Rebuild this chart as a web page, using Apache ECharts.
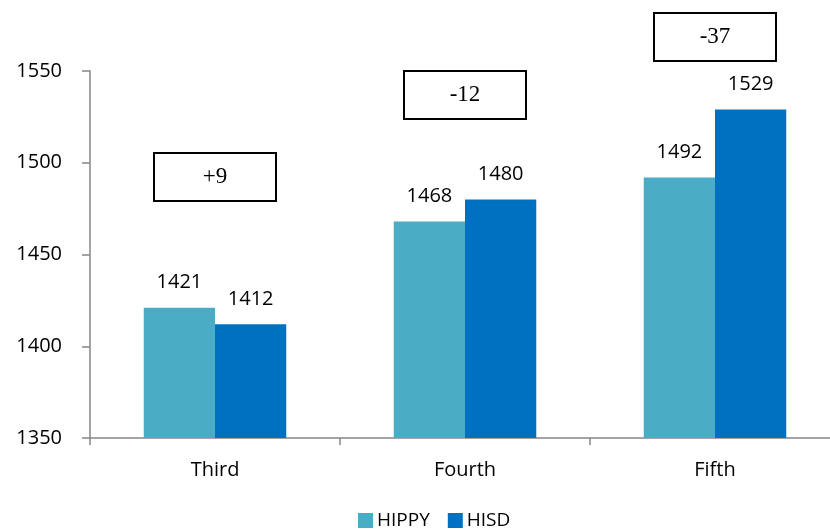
<!DOCTYPE html>
<html>
<head>
<meta charset="utf-8">
<script src="https://cdn.jsdelivr.net/npm/echarts@6/dist/echarts.min.js"></script>
<style>
  html, body { margin: 0; padding: 0; background: #fff; overflow: hidden; }
  /* canvas runs a little past the right edge so the last category is cut off like a cropped slide */
  #chart { width: 840px; height: 531px; }
</style>
</head>
<body>
<div id="chart"></div>
<script>
// Grade levels and average scores for each program
const categories = ['Third', 'Fourth', 'Fifth'];
const hippyScores = [1421, 1468, 1492];
const hisdScores = [1412, 1480, 1529];
const yTicks = [1350, 1400, 1450, 1500, 1550];

// Gap between the two programs in each grade
const gaps = hippyScores.map((v, i) => v - hisdScores[i]);
const gapText = gaps.map(g => (g > 0 ? '+' : '') + g);

// Vertical anchor (in axis units) of each gap box
const boxLevel = [1492.5, 1537, 1568.5];

const chart = echarts.init(document.getElementById('chart'), null, { renderer: 'canvas' });
const font = '"Open Sans", "DejaVu Sans", sans-serif';
const serif = '"Liberation Serif", "DejaVu Serif", serif';
const axisGray = '#868686';
const BOX_W = 122, BOX_H = 48;

chart.setOption({
  animation: false,
  grid: { left: 90, top: 71, bottom: 93, right: 0, containLabel: false },
  legend: {
    bottom: -4,
    left: 353,
    itemWidth: 15,
    itemHeight: 15,
    itemGap: 18,
    icon: 'rect',
    data: ['HIPPY', 'HISD'],
    textStyle: { fontFamily: font, fontSize: 19, color: '#000', padding: [0, 0, 0, -1] }
  },
  xAxis: {
    type: 'category',
    data: categories,
    axisLine: { lineStyle: { color: axisGray, width: 1.5 } },
    axisTick: { show: true, length: 7, lineStyle: { color: axisGray, width: 1.5 } },
    axisLabel: { fontFamily: font, fontSize: 20, color: '#000', margin: 22 }
  },
  yAxis: {
    type: 'value',
    min: yTicks[0],
    max: yTicks[yTicks.length - 1],
    interval: 50,
    splitLine: { show: false },
    axisLine: { show: true, lineStyle: { color: axisGray, width: 1.5 } },
    axisTick: { show: true, length: 8, lineStyle: { color: axisGray, width: 1.5 } },
    axisLabel: { fontFamily: font, fontSize: 20, color: '#000', margin: 28, formatter: v => String(v) }
  },
  series: [
    {
      name: 'HIPPY',
      type: 'bar',
      data: hippyScores,
      barGap: '0%',
      barCategoryGap: '43%',
      itemStyle: { color: '#4BACC6' },
      label: { show: true, position: 'top', distance: 15, fontFamily: font, fontSize: 20, color: '#000', formatter: p => String(p.value) }
    },
    {
      name: 'HISD',
      type: 'bar',
      data: hisdScores,
      itemStyle: { color: '#0070C0' },
      label: { show: true, position: 'top', distance: 15, fontFamily: font, fontSize: 20, color: '#000', formatter: p => String(p.value) }
    },
    {
      // boxed gap labels above each grade
      name: 'gap',
      type: 'custom',
      clip: false,
      silent: true,
      data: categories.map((c, i) => [i, boxLevel[i]]),
      renderItem: (params, api) => {
        const pt = api.coord([api.value(0), api.value(1)]);
        const x = Math.round(pt[0] - BOX_W / 2);
        const y = Math.round(pt[1] - BOX_H / 2);
        return {
          type: 'group',
          children: [
            {
              type: 'rect',
              shape: { x: x, y: y, width: BOX_W, height: BOX_H },
              style: { fill: '#fff', stroke: '#000', lineWidth: 2 }
            },
            {
              type: 'text',
              style: {
                x: x + BOX_W / 2,
                y: y + BOX_H / 2,
                text: gapText[params.dataIndex],
                align: 'center',
                verticalAlign: 'middle',
                font: '23px ' + serif,
                fill: '#000'
              }
            }
          ]
        };
      }
    }
  ]
});
</script>
</body>
</html>
